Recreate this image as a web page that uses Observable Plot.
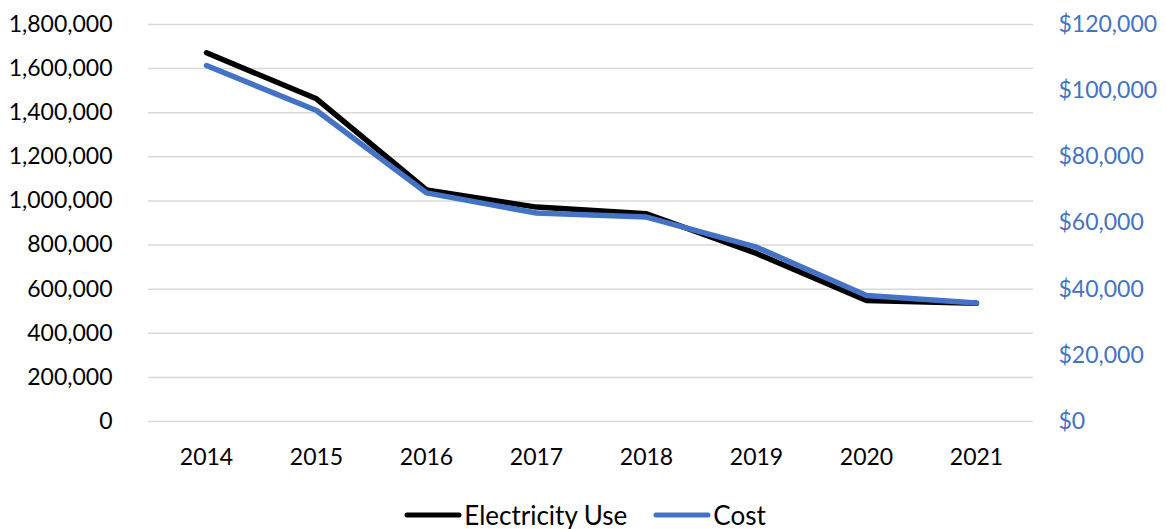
<!DOCTYPE html>
<html>
<head>
<meta charset="utf-8">
<script src="https://cdn.jsdelivr.net/npm/d3@7"></script>
<script src="https://cdn.jsdelivr.net/npm/@observablehq/plot@0.6"></script>
<style>
  html, body { margin: 0; padding: 0; background: #fff; }
  #chart { width: 1166px; }
  .legend {
    display: flex; justify-content: center; align-items: center;
    font-family: Lato, "Open Sans", sans-serif; font-size: 26px; color: #000;
    height: 36px; margin-top: 17px; padding-left: 4px;
  }
  .legend .item { display: flex; align-items: center; margin: 0 13px; }
  .legend svg { margin-right: 2px; }
</style>
</head>
<body>
<div id="chart"></div>
<script>
// Annual electricity use (kWh) and its cost (USD)
const years = ["2014", "2015", "2016", "2017", "2018", "2019", "2020", "2021"];
const electricityUse = [1672000, 1463000, 1050000, 972000, 942000, 762000, 549000, 536000];
const cost = [107600, 94000, 69100, 63000, 61800, 52700, 38100, 35800];

const useTicks = [0, 200000, 400000, 600000, 800000, 1000000, 1200000, 1400000, 1600000, 1800000];
const costTicks = [0, 20000, 40000, 60000, 80000, 100000, 120000];

const useMax = 1800000;
const costMax = 120000;
const k = useMax / costMax; // maps the cost axis onto the shared y scale

const BLUE = "#4472C4";
const FONT = "Lato, 'Open Sans', sans-serif";

const useRows = years.map((year, i) => ({year, value: electricityUse[i]}));
const costRows = years.map((year, i) => ({year, value: cost[i] * k}));

const chart = Plot.plot({
  width: 1166,
  height: 480,
  marginLeft: 148,
  marginRight: 133,
  marginTop: 24,
  marginBottom: 59,
  style: {fontFamily: FONT, fontSize: "23px", color: "#000", background: "#fff"},
  x: {type: "point", domain: years, padding: 0.5, label: null},
  y: {domain: [0, useMax], label: null},
  marks: [
    Plot.ruleY(useTicks, {stroke: "#d9d9d9", strokeWidth: 1.5}),
    Plot.axisY({
      ticks: useTicks, tickSize: 0, tickPadding: 36, label: null,
      tickFormat: d3.format(","), fill: "#000"
    }),
    Plot.axisY({
      anchor: "right", ticks: costTicks.map(d => d * k), tickSize: 0, tickPadding: 25, label: null,
      tickFormat: d => "$" + d3.format(",")(Math.round(d / k)), fill: BLUE
    }),
    Plot.axisX({tickSize: 0, tickPadding: 27, label: null, fill: "#000"}),
    Plot.lineY(useRows, {x: "year", y: "value", stroke: "#000", strokeWidth: 5.5, strokeLinejoin: "round", strokeLinecap: "round"}),
    Plot.lineY(costRows, {x: "year", y: "value", stroke: BLUE, strokeWidth: 5.5, strokeLinejoin: "round", strokeLinecap: "round"})
  ]
});

document.getElementById("chart").append(chart);

// Legend below the plot
const legend = document.createElement("div");
legend.className = "legend";
[["Electricity Use", "#000"], ["Cost", BLUE]].forEach(([name, color]) => {
  const item = document.createElement("div");
  item.className = "item";
  item.innerHTML = `<svg width="58" height="10"><line x1="3" y1="5" x2="55" y2="5" stroke="${color}" stroke-width="5" stroke-linecap="round"/></svg><span>${name}</span>`;
  legend.append(item);
});
document.getElementById("chart").append(legend);
</script>
</body>
</html>
